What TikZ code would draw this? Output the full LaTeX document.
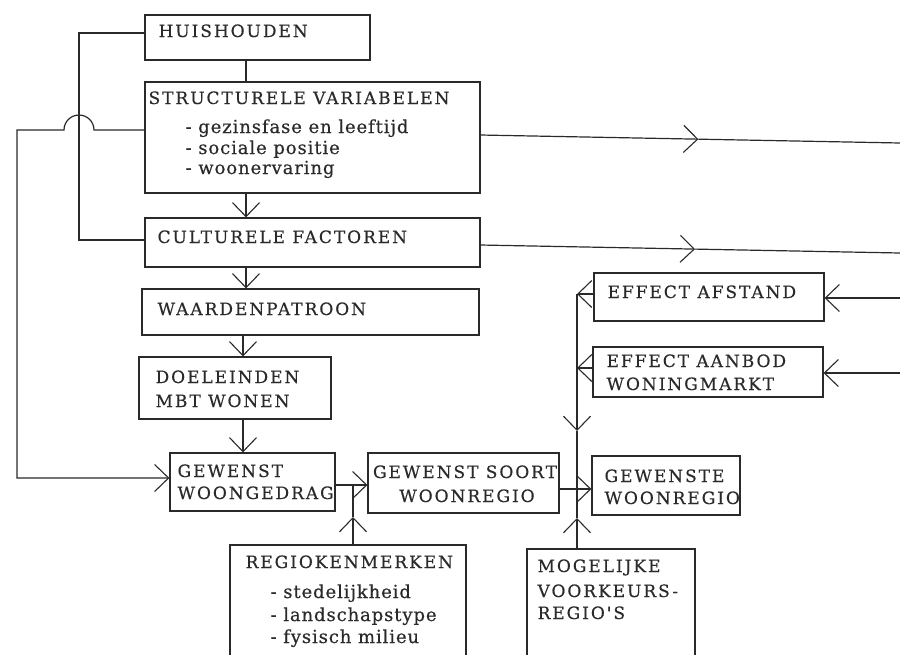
\documentclass[tikz,border=0pt]{standalone}
\usepackage{fontspec}
\setmainfont{DejaVu Serif}
\newfontfamily\capsf{DejaVu Serif}[LetterSpace=11.5,FakeBold=0.4]
\newfontfamily\lowf{DejaVu Serif}[LetterSpace=5,FakeBold=0.4]
\usetikzlibrary{arrows.meta,calc}
\definecolor{ink}{HTML}{2A2A2A}
\begin{document}
\begin{tikzpicture}[x=1pt,y=-1pt,
  line width=1.2pt, draw=ink,
  box/.style={draw=ink, line width=1.2pt, rectangle, inner sep=0pt},
  txt/.style={anchor=base west, inner sep=0pt, text=ink, font=\capsf\fontsize{17pt}{20pt}\selectfont},
  itm/.style={txt, font=\lowf\fontsize{18pt}{20pt}\selectfont},
  txtc/.style={txt, anchor=base},
  arr/.style={-{Straight Barb[length=14pt,width=27pt,line width=1.1pt]}}
]
\useasboundingbox (0,0) rectangle (900,654);
\clip (0,0) rectangle (900,654);
\fill[white] (0,0) rectangle (900,654);

% boxes
\node[box, minimum width=225pt, minimum height=45pt]  (huis)  at (257.5,37.5) {};
\node[box, minimum width=335pt, minimum height=111pt] (struct) at (312.5,137.5) {};
\node[box, minimum width=335pt, minimum height=49pt]  (cult)  at (312.5,242.5) {};
\node[box, minimum width=337pt, minimum height=46pt]  (waard) at (310.5,312) {};
\node[box, minimum width=192pt, minimum height=62pt]  (doel)  at (235,388) {};
\node[box, minimum width=165pt, minimum height=58pt]  (gw)    at (252.5,482) {};
\node[box, minimum width=191pt, minimum height=60pt]  (soort) at (463.5,483) {};
\node[box, minimum width=148pt, minimum height=59pt]  (gewenste) at (666,485.5) {};
\node[box, minimum width=236pt, minimum height=155pt] (regio) at (348,622.5) {};
\node[box, minimum width=168pt, minimum height=151pt] (mog)   at (611,624.5) {};
\node[box, minimum width=230pt, minimum height=48pt]  (afstand) at (709,297) {};
\node[box, minimum width=230pt, minimum height=50pt]  (aanbod)  at (708,372) {};

% texts
\node[txt] (t1) at (158,37) {HUISHOUDEN};
\node[txt] (t2) at (148,104) {STRUCTURELE VARIABELEN};
\node[itm] (t3) at (185,133) {- gezinsfase en leeftijd};
\node[itm] (t4) at (185,154) {- sociale positie};
\node[itm] (t5) at (185,174) {- woonervaring};
\node[txt] (t6) at (157,243) {CULTURELE FACTOREN};
\node[txt] (t7) at (157,315) {WAARDENPATROON};
\node[txt] (t8) at (155,383) {DOELEINDEN};
\node[txt] (t9) at (155,407) {MBT WONEN};
\node[txt] (t10) at (177,477) {GEWENST};
\node[txt] (t11) at (177,499) {WOONGEDRAG};
\node[txtc] (t12) at (465,478) {GEWENST SOORT};
\node[txtc] (t13) at (467,502) {WOONREGIO};
\node[txt] (t14) at (604,482) {GEWENSTE};
\node[txt] (t15) at (604,504) {WOONREGIO};
\node[txt] (t16) at (245,568) {REGIOKENMERKEN};
\node[itm] (t17) at (270,598) {- stedelijkheid};
\node[itm] (t18) at (270,621) {- landschapstype};
\node[itm] (t19) at (270,643) {- fysisch milieu};
\node[txt] (t20) at (537,572) {MOGELIJKE};
\node[txt] (t21) at (537,597) {VOORKEURS-};
\node[txt] (t22) at (537,619) {REGIO'S};
\node[txt] (t23) at (607,298) {EFFECT AFSTAND};
\node[txt] (t24) at (606,367) {EFFECT AANBOD};
\node[txt] (t25) at (606,390) {WONINGMARKT};

% helper coordinates
\coordinate (xa) at (246,0);
\coordinate (xb) at (243,0);
\coordinate (ya) at (0,485);
\coordinate (yb) at (0,489);
\coordinate (xr) at (353,0);
\coordinate (rtip) at (353,517);
\coordinate (v1) at (577,294);
\coordinate (v2) at (577,368);
\coordinate (vdown) at (577,431);
\coordinate (vup) at (577,518);
\coordinate (r1) at (900,298);
\coordinate (r2) at (900,373);
\coordinate (s1) at (480,135);
\coordinate (o1) at (900,143);
\coordinate (s2) at (480,245);
\coordinate (o2) at (900,253);
\coordinate (fa) at (79,33);
\coordinate (fb) at (79,240);
\coordinate (ha) at (94,130);
\coordinate (hb) at (17,130);
\coordinate (hc) at (17,478);

% vertical chain
\draw (huis.south -| xa) -- (struct.north -| xa);
\draw[arr] (struct.south -| xa) -- (cult.north -| xa);
\draw[arr] (cult.south -| xa) -- (waard.north -| xa);
\draw[arr] (waard.south -| xb) -- (doel.north -| xb);
\draw[arr] (doel.south -| xb) -- (gw.north -| xb);

% horizontal chain
\draw[arr] (gw.east |- ya) -- (soort.west |- ya);
\draw[arr] (soort.east |- yb) -- (gewenste.west |- yb);

% regiokenmerken
\draw[arr] (regio.north -| xr) -- (rtip);
\draw (rtip) -- (rtip |- ya);

% effect bus
\draw[arr] (afstand.west |- v1) -- (v1);
\draw[arr] (aanbod.west |- v2) -- (v2);
\draw[arr] (v1) -- (vdown);
\draw (vdown) -- (vup);
\draw[arr] (mog.north -| vup) -- (vup);

% right inputs
\draw[arr] (r1) -- (afstand.east |- r1);
\draw[arr] (r2) -- (aanbod.east |- r2);

% outputs to right
\draw[arr] (s1) -- ($(s1)!0.52!(o1)$);
\draw ($(s1)!0.52!(o1)$) -- (o1);
\draw[arr] (s2) -- ($(s2)!0.512!(o2)$);
\draw ($(s2)!0.512!(o2)$) -- (o2);

% feedback lines
\draw (huis.west |- fa) -- (fa) -- (fb) -- (cult.west |- fb);
\draw[arr] (struct.west |- ha) -- (ha) arc (0:-180:15) -- (hb) -- (hc) -- (gw.west |- hc);
\end{tikzpicture}
\end{document}
